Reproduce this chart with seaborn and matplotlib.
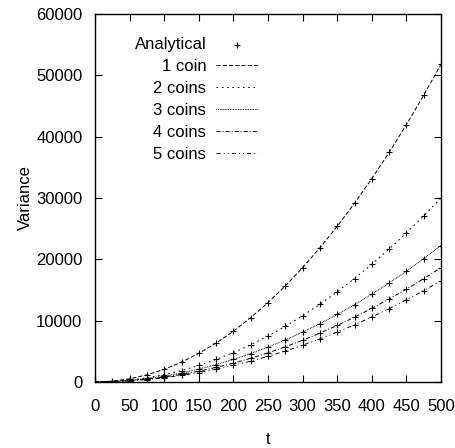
import numpy as np
import pandas as pd
import seaborn as sns
import matplotlib
matplotlib.use("Agg")
import matplotlib.pyplot as plt

t = [0, 25, 50, 75, 100, 125, 150, 175, 200, 225, 250, 275, 300, 325, 350,
     375, 400, 425, 450, 475, 500]

coin1 = [0, 130, 518, 1165, 2072, 3238, 4663, 6346, 8288, 10490, 12950, 15670,
         18650, 21885, 25380, 29140, 33150, 37425, 41960, 46750, 51800]
coin2 = [0, 75, 300, 675, 1200, 1875, 2700, 3675, 4800, 6075, 7500, 9075,
         10800, 12675, 14700, 16875, 19200, 21675, 24300, 27075, 30000]
coin3 = [0, 79, 268, 564, 970, 1484, 2108, 2839, 3680, 4629, 5688, 6854,
         8130, 9514, 11008, 12609, 14320, 16139, 18068, 20104, 22250]
coin4 = [0, 66, 223, 471, 810, 1241, 1763, 2376, 3080, 3876, 4763, 5741,
         6810, 7971, 9223, 10566, 12000, 13526, 15143, 16851, 18650]
coin5 = [0, 53, 188, 403, 700, 1078, 1538, 2078, 2700, 3403, 4188, 5053,
         6000, 7028, 8138, 9328, 10600, 11953, 13388, 14903, 16500]

series = {"1 coin": coin1, "2 coins": coin2, "3 coins": coin3,
          "4 coins": coin4, "5 coins": coin5}
styles = {"1 coin": (0, (3, 1.5)),
          "2 coins": (0, (1.2, 2.6)),
          "3 coins": (0, (0.6, 0.6)),
          "4 coins": (0, (3, 1.4, 0.7, 1.4)),
          "5 coins": (0, (3, 2.2, 0.7, 2.2, 0.7, 2.2))}

sns.set_style("ticks")
plt.rcParams["font.family"] = ["Liberation Sans", "DejaVu Sans"]
plt.rcParams["lines.scale_dashes"] = False
plt.rcParams["text.color"] = "black"
plt.rcParams["axes.labelcolor"] = "black"

fig = plt.figure(figsize=(4.56, 4.48), dpi=100)
ax = fig.add_axes([95 / 456, 1 - 382 / 448, 346 / 456, 368 / 448])

# analytical points (every 25 steps, skip t=0)
df = pd.DataFrame({"t": t, **series})
long = df[df["t"] > 0].melt(id_vars="t", var_name="n", value_name="Variance")
sns.scatterplot(data=long, x="t", y="Variance", marker="+", color="k",
                s=22, linewidth=0.8, label="Analytical", ax=ax, zorder=3)

for name, vals in series.items():
    sns.lineplot(x=t, y=vals, color="k", linewidth=0.7,
                 linestyle=styles[name], label=name, ax=ax)

ax.set_xlim(0, 500)
ax.set_ylim(0, 60000)
ax.set_xticks(range(0, 501, 50))
ax.set_yticks(range(0, 60001, 10000))
ax.tick_params(direction="in", length=5, width=0.8, top=True, right=True,
               labelsize=12, pad=9, color="black", labelcolor="black")
ax.tick_params(axis="x", pad=12)
for s in ax.spines.values():
    s.set_linewidth(1.0)
    s.set_color("black")
    s.set_visible(True)
ax.set_xlabel("t", fontsize=12, labelpad=13)
ax.set_ylabel("Variance", fontsize=12, labelpad=2)

ax.legend(loc="upper right", bbox_to_anchor=(258 / 456, 1 - 37 / 448),
          bbox_transform=fig.transFigure, markerfirst=False, frameon=False,
          fontsize=12, handlelength=2.5, handletextpad=0.6,
          labelspacing=0.42, borderpad=0, borderaxespad=0)

fig.savefig("out.png", dpi=100)
